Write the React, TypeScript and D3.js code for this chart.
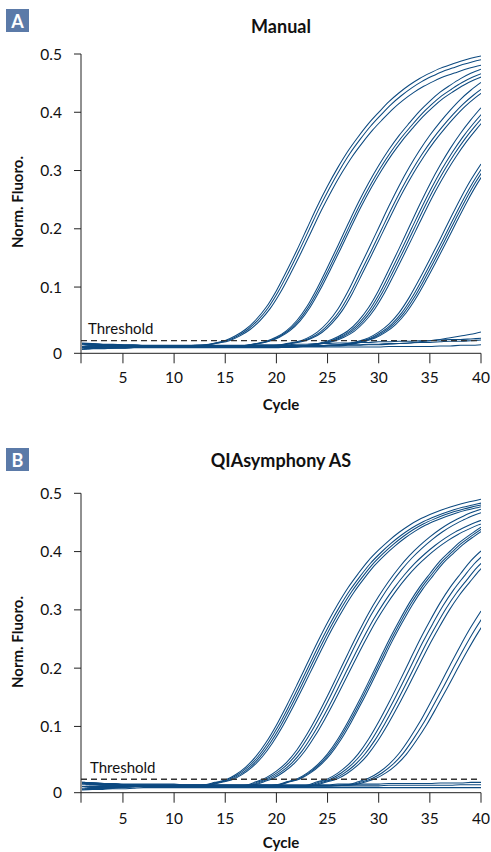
import React from 'react';
import * as d3 from 'd3';

const CYCLES = [1,2,3,4,5,6,7,8,9,10,11,12,13,14,15,16,17,18,19,20,21,22,23,24,25,26,27,28,29,30,31,32,33,34,35,36,37,38,39,40];
const X_TICKS = [5, 10, 15, 20, 25, 30, 35, 40];
const Y_TICKS = [0.1, 0.2, 0.3, 0.4, 0.5];
const Y_TICK_LABELS = ['0.1', '0.2', '0.3', '0.4', '0.5'];
const Y_FLOOR = -0.0137;
const Y_FLOOR_LABEL = '0';
const X_START = 0.9;
const X_END = 40;

// Panel A – Manual (earliest replicate of each dilution group)
const MANUAL_G1 = [0.003,0.002,0.001,0.001,0.000,0.000,-0.001,-0.001,-0.001,-0.001,
 -0.001,0.000,0.001,0.004,0.008,0.016,0.027,0.043,0.064,0.092,
 0.125,0.160,0.197,0.234,0.268,0.299,0.327,0.351,0.373,0.392,
 0.410,0.425,0.438,0.449,0.458,0.466,0.472,0.478,0.483,0.487];
const MANUAL_G2 = [-0.004,-0.004,-0.003,-0.003,-0.003,-0.002,-0.002,-0.002,-0.002,-0.002,
 -0.002,-0.002,-0.002,-0.002,-0.002,-0.002,0.000,0.003,0.007,0.014,
 0.025,0.042,0.066,0.097,0.132,0.168,0.205,0.241,0.274,0.304,
 0.331,0.355,0.376,0.396,0.413,0.428,0.440,0.451,0.460,0.467];
const MANUAL_G3 = [0.001,0.000,0.000,-0.001,-0.002,-0.002,-0.002,-0.002,-0.002,-0.002,
 -0.002,-0.002,-0.002,-0.002,-0.002,-0.002,-0.002,-0.002,-0.001,0.000,
 0.003,0.006,0.012,0.022,0.038,0.060,0.090,0.125,0.160,0.196,
 0.232,0.266,0.297,0.325,0.350,0.372,0.392,0.410,0.425,0.438];
const MANUAL_G4 = [-0.006,-0.005,-0.005,-0.004,-0.004,-0.003,-0.003,-0.003,-0.003,-0.003,
 -0.003,-0.003,-0.003,-0.003,-0.003,-0.003,-0.003,-0.003,-0.003,-0.003,
 -0.003,-0.002,0.000,0.003,0.007,0.014,0.024,0.040,0.062,0.091,
 0.125,0.160,0.196,0.232,0.266,0.297,0.325,0.350,0.372,0.392];
const MANUAL_G5 = [0.002,0.001,0.000,0.000,-0.001,-0.001,-0.001,-0.001,-0.001,-0.001,
 -0.001,-0.001,-0.001,-0.001,-0.001,-0.001,-0.001,-0.001,-0.001,-0.001,
 -0.001,-0.001,-0.001,-0.001,0.000,0.001,0.003,0.007,0.013,0.023,
 0.037,0.057,0.084,0.116,0.150,0.185,0.221,0.256,0.288,0.316];
// replicate spread per group: [cycle offset, amplitude factor]
const MANUAL_REPS = [
  [[0, 1.02], [0.2, 1.008], [0.4, 0.99]],
  [[0, 1.015], [0.15, 1.0], [0.3, 0.99]],
  [[0, 1.03], [0.25, 1.01], [0.45, 1.0]],
  [[0, 1.04], [0.2, 1.02], [0.4, 1.01], [0.6, 1.0]],
  [[0, 0.985], [0.25, 0.975], [0.45, 0.97], [0.65, 0.965]],
];
const MANUAL_NEG1 = [-0.002,-0.002,-0.002,-0.002,-0.002,-0.002,-0.002,-0.002,-0.002,-0.002,
 -0.002,-0.002,-0.002,-0.002,-0.002,-0.002,-0.002,-0.002,-0.002,-0.002,
 -0.002,-0.002,-0.002,-0.002,-0.001,-0.001,0.000,0.000,0.001,0.001,
 0.002,0.003,0.004,0.006,0.008,0.010,0.013,0.016,0.019,0.023];
const MANUAL_NEG2 = [0.004,0.003,0.002,0.002,0.001,0.001,0.000,0.000,0.000,0.000,
 0.000,0.000,0.000,0.000,0.000,0.000,0.000,0.001,0.001,0.001,
 0.001,0.002,0.002,0.003,0.003,0.004,0.004,0.005,0.005,0.006,
 0.006,0.007,0.007,0.008,0.008,0.009,0.010,0.010,0.011,0.012];
const MANUAL_NEG3 = [-0.004,-0.004,-0.003,-0.003,-0.003,-0.003,-0.002,-0.002,-0.002,-0.002,
 -0.002,-0.002,-0.002,-0.002,-0.002,-0.002,-0.002,-0.002,-0.002,-0.002,
 -0.002,-0.001,-0.001,-0.001,0.000,0.000,0.001,0.001,0.002,0.002,
 0.003,0.003,0.004,0.005,0.005,0.006,0.007,0.007,0.008,0.009];
const MANUAL_NEG4 = [-0.007,-0.006,-0.006,-0.005,-0.005,-0.004,-0.004,-0.004,-0.004,-0.004,
 -0.004,-0.004,-0.004,-0.004,-0.004,-0.004,-0.004,-0.004,-0.004,-0.004,
 -0.003,-0.003,-0.003,-0.003,-0.003,-0.003,-0.003,-0.003,-0.003,-0.003,
 -0.002,-0.002,-0.002,-0.002,-0.002,-0.001,-0.001,0.000,0.000,0.001];
const MANUAL_THRESHOLD = 0.008;

// Panel B – QIAsymphony AS
const SYM_G1 = [0.002,0.001,0.000,0.000,-0.001,-0.001,-0.001,-0.001,-0.001,-0.001,
 -0.001,-0.001,0.000,0.004,0.008,0.017,0.030,0.048,0.072,0.101,
 0.134,0.169,0.205,0.241,0.275,0.306,0.334,0.358,0.380,0.398,
 0.414,0.428,0.440,0.450,0.458,0.465,0.471,0.476,0.480,0.484];
const SYM_G2 = [-0.006,-0.005,-0.004,-0.004,-0.003,-0.003,-0.003,-0.003,-0.003,-0.003,
 -0.003,-0.003,-0.003,-0.003,-0.003,-0.003,-0.001,0.005,0.012,0.023,
 0.038,0.059,0.086,0.117,0.151,0.187,0.223,0.258,0.291,0.320,
 0.346,0.369,0.389,0.406,0.421,0.434,0.445,0.454,0.462,0.468];
const SYM_G3 = [0.004,0.003,0.002,0.001,0.000,0.000,-0.001,-0.001,-0.001,-0.001,
 -0.001,-0.001,-0.001,-0.001,-0.001,-0.001,-0.001,-0.001,-0.001,0.000,
 0.005,0.010,0.020,0.034,0.053,0.078,0.108,0.141,0.176,0.212,
 0.248,0.281,0.312,0.339,0.362,0.384,0.401,0.417,0.430,0.442];
const SYM_G4 = [-0.008,-0.007,-0.006,-0.005,-0.004,-0.003,-0.003,-0.003,-0.003,-0.003,
 -0.003,-0.003,-0.003,-0.003,-0.003,-0.003,-0.003,-0.003,-0.003,-0.003,
 -0.003,-0.003,-0.001,0.005,0.010,0.020,0.034,0.053,0.078,0.108,
 0.141,0.176,0.212,0.248,0.281,0.312,0.339,0.362,0.384,0.401];
const SYM_G5 = [0.000,0.000,-0.001,-0.001,-0.001,-0.002,-0.002,-0.002,-0.002,-0.002,
 -0.002,-0.002,-0.002,-0.002,-0.002,-0.002,-0.002,-0.002,-0.002,-0.002,
 -0.002,-0.002,-0.002,-0.002,-0.002,-0.001,0.000,0.005,0.011,0.021,
 0.035,0.054,0.079,0.107,0.139,0.172,0.206,0.239,0.270,0.298];
const SYM_REPS = [
  [[0, 1.012], [0.2, 1.0], [0.4, 0.995], [0.6, 0.99]],
  [[0, 1.01], [0.25, 1.0], [0.5, 0.975], [0.75, 0.965]],
  [[0, 1.0], [0.15, 0.995], [0.3, 0.99]],
  [[0, 1.0], [0.3, 0.985], [0.6, 0.97], [0.9, 0.96]],
  [[0, 1.0], [0.35, 0.98], [0.7, 0.965]],
];
const SYM_NEG1 = [0.004,0.003,0.002,0.002,0.001,0.001,0.001,0.001,0.001,0.001,
 0.000,0.000,0.000,0.000,0.000,0.000,0.000,0.000,0.000,0.000,
 0.000,0.000,0.000,0.000,0.000,0.001,0.001,0.001,0.001,0.001,
 0.002,0.002,0.002,0.002,0.002,0.003,0.003,0.003,0.004,0.004];
const SYM_NEG2 = [-0.003,-0.003,-0.003,-0.003,-0.003,-0.003,-0.003,-0.003,-0.003,-0.003,
 -0.002,-0.002,-0.002,-0.002,-0.002,-0.002,-0.002,-0.002,-0.002,-0.002,
 -0.002,-0.002,-0.002,-0.002,-0.002,-0.002,-0.002,-0.002,-0.002,-0.002,
 -0.001,-0.001,-0.001,-0.001,-0.001,-0.001,-0.001,0.000,0.000,0.000];
const SYM_NEG3 = [-0.009,-0.008,-0.008,-0.007,-0.007,-0.006,-0.005,-0.005,-0.005,-0.005,
 -0.005,-0.005,-0.005,-0.005,-0.005,-0.005,-0.005,-0.005,-0.005,-0.005,
 -0.005,-0.005,-0.005,-0.005,-0.005,-0.005,-0.005,-0.005,-0.005,-0.005,
 -0.005,-0.005,-0.005,-0.005,-0.005,-0.005,-0.005,-0.005,-0.005,-0.005];
const SYM_THRESHOLD = 0.0095;

const LINE_COLOR = '#0d4a80';
const AXIS_COLOR = '#222';
const BADGE_COLOR = '#5b7aa8';
const FONT = "Lato, 'Open Sans', sans-serif";

type PanelProps = {
  id: string;
  badge: string;
  badgeY: number;
  title: string;
  titleY: number;
  top: number;
  bottom: number;
  groups: number[][];
  reps: number[][][];
  flats: number[][];
  threshold: number;
  thresholdLabelX: number;
  thresholdLabelDy: number;
  tickLabelY: number;
  xTitleY: number;
  yTitleY: number;
};

const LEFT = 81;
const RIGHT = 481;

function Panel(p: PanelProps) {
  const x = d3.scaleLinear().domain([X_START, X_END]).range([LEFT, RIGHT]);
  const y = d3.scaleLinear().domain([Y_FLOOR, 0.5]).range([p.bottom, p.top]);
  const line = d3
    .line<[number, number]>()
    .x((d) => x(d[0]))
    .y((d) => y(d[1]))
    .curve(d3.curveMonotoneX);
  const paths: string[] = [];
  p.flats.forEach((f) => paths.push(line(CYCLES.map((c, i) => [c, f[i]] as [number, number])) || ''));
  p.groups.forEach((g, gi) => {
    p.reps[gi].forEach(([s, k]) => {
      paths.push(line(CYCLES.map((c, i) => [c + s, g[i] * k] as [number, number])) || '');
    });
  });
  const thrY = y(p.threshold);
  const clipId = `clip-${p.id}`;
  return (
    <g>
      <rect x={6} y={p.badgeY} width={23} height={23} fill={BADGE_COLOR} />
      <text x={17.5} y={p.badgeY + 18.5} textAnchor="middle" fill="#fff" fontFamily={FONT} fontWeight={700} fontSize={18}>
        {p.badge}
      </text>
      <text x={(LEFT + RIGHT) / 2} y={p.titleY} textAnchor="middle" fontFamily={FONT} fontWeight={700} fontSize={18} fill="#111">
        {p.title}
      </text>
      <defs>
        <clipPath id={clipId}>
          <rect x={LEFT} y={p.top - 10} width={RIGHT - LEFT} height={p.bottom - p.top + 10} />
        </clipPath>
      </defs>
      <g clipPath={`url(#${clipId})`}>
        {paths.map((d, i) => (
          <path key={i} d={d} fill="none" stroke={LINE_COLOR} strokeWidth={1.05} />
        ))}
      </g>
      <line x1={LEFT} x2={RIGHT} y1={thrY} y2={thrY} stroke="#333" strokeWidth={1.4} strokeDasharray="6,4" />
      <text x={p.thresholdLabelX} y={thrY - p.thresholdLabelDy} fontFamily={FONT} fontSize={15} fill="#111">
        Threshold
      </text>
      {/* y axis */}
      <line x1={LEFT} x2={LEFT} y1={p.top} y2={p.bottom + 10} stroke={AXIS_COLOR} strokeWidth={1} />
      {Y_TICKS.map((t, i) => (
        <g key={t}>
          <line x1={LEFT - 7} x2={LEFT} y1={y(t)} y2={y(t)} stroke={AXIS_COLOR} strokeWidth={1} />
          <text x={62} y={y(t) + 5.5} textAnchor="end" fontFamily={FONT} fontSize={15.5} fill="#111">
            {Y_TICK_LABELS[i]}
          </text>
        </g>
      ))}
      <line x1={LEFT - 7} x2={LEFT} y1={y(Y_FLOOR)} y2={y(Y_FLOOR)} stroke={AXIS_COLOR} strokeWidth={1} />
      <text x={62} y={y(Y_FLOOR) + 5.5} textAnchor="end" fontFamily={FONT} fontSize={15.5} fill="#111">
        {Y_FLOOR_LABEL}
      </text>
      {/* x axis */}
      <line x1={LEFT} x2={RIGHT} y1={p.bottom} y2={p.bottom} stroke={AXIS_COLOR} strokeWidth={1} />
      {X_TICKS.map((t) => (
        <g key={t}>
          <line x1={x(t)} x2={x(t)} y1={p.bottom} y2={p.bottom + 10} stroke={AXIS_COLOR} strokeWidth={1} />
          <text x={x(t)} y={p.tickLabelY} textAnchor="middle" fontFamily={FONT} fontSize={15.5} fill="#111">
            {t}
          </text>
        </g>
      ))}
      <text x={(LEFT + RIGHT) / 2} y={p.xTitleY} textAnchor="middle" fontFamily={FONT} fontWeight={700} fontSize={15} fill="#111">
        Cycle
      </text>
      <text
        transform={`translate(22.5,${p.yTitleY}) rotate(-90)`}
        textAnchor="middle"
        fontFamily={FONT}
        fontWeight={700}
        fontSize={15}
        fill="#111"
      >
        Norm. Fluoro.
      </text>
    </g>
  );
}

export default function App() {
  return (
    <svg width={491} height={852} style={{ position: 'absolute', left: 0, top: 0, background: '#fff' }}>
      <rect width={491} height={852} fill="#fff" />
      <Panel
        id="a"
        badge="A"
        badgeY={9}
        title="Manual"
        titleY={33}
        top={54}
        bottom={353.3}
        groups={[MANUAL_G1, MANUAL_G2, MANUAL_G3, MANUAL_G4, MANUAL_G5]}
        reps={MANUAL_REPS}
        flats={[MANUAL_NEG1, MANUAL_NEG2, MANUAL_NEG3, MANUAL_NEG4]}
        threshold={MANUAL_THRESHOLD}
        thresholdLabelX={88}
        thresholdLabelDy={7}
        tickLabelY={383}
        xTitleY={410}
        yTitleY={202}
      />
      <Panel
        id="b"
        badge="B"
        badgeY={448}
        title="QIAsymphony AS"
        titleY={467}
        top={493.3}
        bottom={792.7}
        groups={[SYM_G1, SYM_G2, SYM_G3, SYM_G4, SYM_G5]}
        reps={SYM_REPS}
        flats={[SYM_NEG1, SYM_NEG2, SYM_NEG3]}
        threshold={SYM_THRESHOLD}
        thresholdLabelX={90}
        thresholdLabelDy={6}
        tickLabelY={823.5}
        xTitleY={848}
        yTitleY={642}
      />
    </svg>
  );
}
